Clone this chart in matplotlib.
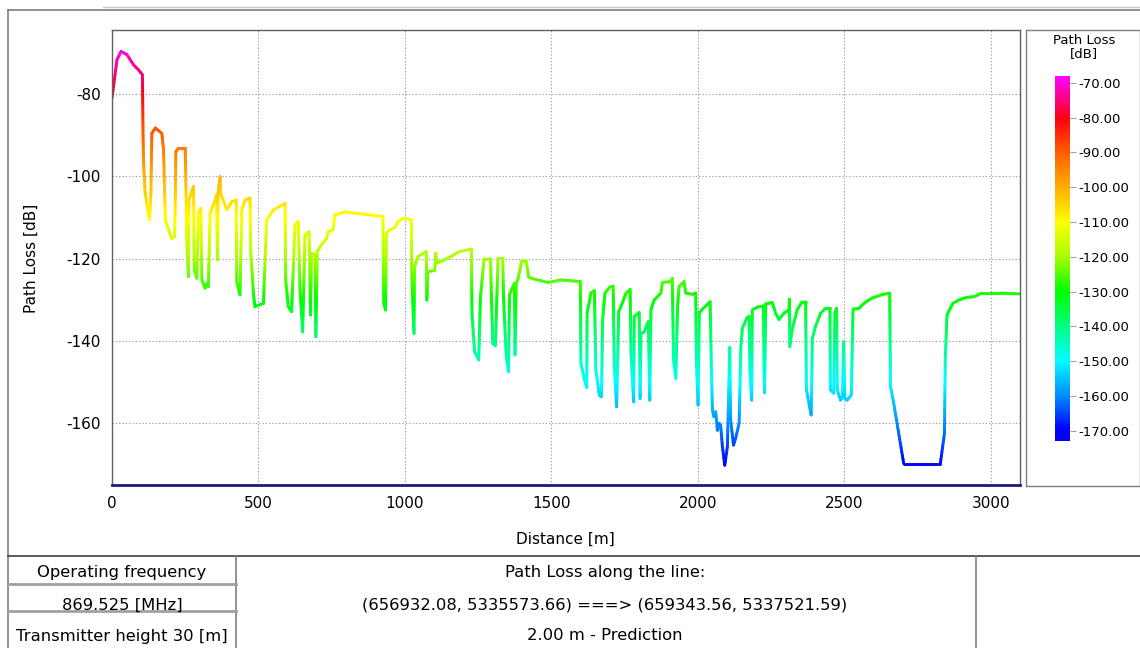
import numpy as np
import matplotlib
matplotlib.use("Agg")
import matplotlib.pyplot as plt
from matplotlib.collections import LineCollection
from matplotlib.colors import LinearSegmentedColormap, Normalize

plt.rcParams["axes.unicode_minus"] = False

# path loss profile: distance [m] and loss [dB]
distance = [0, 17, 31, 51, 74, 91, 104, 106, 108, 113, 128, 133, 136, 148, 170, 176, 182, 193,
            204, 214, 216, 218, 227, 250, 253, 255, 261, 263, 278, 281, 290, 295, 303, 307, 318,
            324, 329, 335, 352, 357, 360, 362, 369, 371, 375, 392, 409, 424, 426, 437, 443, 454,
            471, 474, 483, 488, 500, 517, 528, 551, 591, 593, 602, 613, 625, 636, 642, 651, 659,
            673, 678, 681, 693, 696, 701, 715, 733, 738, 755, 761, 795, 857, 925, 928, 934, 937,
            948, 965, 977, 994, 1022, 1024, 1031, 1033, 1045, 1073, 1075, 1078, 1102, 1105, 1110,
            1136, 1187, 1227, 1229, 1238, 1252, 1258, 1270, 1292, 1300, 1309, 1318, 1334, 1337,
            1346, 1354, 1357, 1369, 1374, 1376, 1380, 1386, 1399, 1414, 1422, 1442, 1488, 1533,
            1567, 1599, 1601, 1613, 1621, 1622, 1630, 1635, 1647, 1652, 1664, 1671, 1675, 1683,
            1698, 1711, 1715, 1723, 1730, 1744, 1755, 1769, 1772, 1781, 1783, 1800, 1803, 1806,
            1817, 1831, 1836, 1840, 1851, 1874, 1879, 1908, 1913, 1917, 1925, 1931, 1936, 1953,
            1959, 1982, 1993, 1995, 2001, 2005, 2016, 2042, 2047, 2050, 2055, 2061, 2067, 2073,
            2078, 2084, 2092, 2101, 2109, 2112, 2122, 2129, 2141, 2147, 2152, 2167, 2175, 2178,
            2184, 2186, 2203, 2224, 2226, 2228, 2232, 2254, 2266, 2277, 2294, 2311, 2313, 2314,
            2322, 2339, 2356, 2368, 2371, 2387, 2391, 2402, 2419, 2436, 2451, 2453, 2464, 2468,
            2474, 2476, 2487, 2494, 2498, 2502, 2510, 2524, 2530, 2550, 2567, 2595, 2629, 2655,
            2658, 2669, 2703, 2828, 2842, 2845, 2851, 2856, 2871, 2890, 2919, 2941, 2970, 3032,
            3100]
path_loss = [-81, -71.7, -69.7, -70.5, -73, -74.2, -75.4, -90, -97, -104, -110.6, -104, -89.6,
             -88.3, -89.6, -93.6, -110.6, -113, -115.1, -114.7, -105.8, -94, -93.2, -93.2, -105,
             -115.5, -124.4, -105.8, -102.5, -122.8, -124.8, -109, -107.8, -125.2, -127.2, -126,
             -126.8, -109, -105.8, -104.5, -120.3, -104, -100.1, -104.5, -105, -108.2, -106.2,
             -105.8, -125.6, -128.8, -108.2, -105.8, -105.3, -118.7, -128.4, -131.7, -131.3,
             -130.9, -110.6, -108.2, -106.6, -125.2, -131.7, -132.9, -111.8, -111, -127.6,
             -137.8, -114.3, -113.5, -133.7, -118.7, -119.1, -139, -118.3, -116.7, -115.1,
             -113.5, -113, -109.4, -108.7, -109.2, -109.8, -130.9, -132.5, -113.9, -113, -112.6,
             -111, -110.2, -110.6, -125.2, -138.2, -122, -119.5, -118.3, -130.1, -123.2, -122.9,
             -118.7, -121.1, -120.3, -118.3, -117.7, -133.3, -142.6, -144.6, -129.3, -120.2,
             -120.1, -140.6, -141.2, -119.9, -119.9, -130, -143.8, -147.5, -128.8, -126.8, -126,
             -143.4, -126, -125, -120.5, -120.5, -124.5, -125, -125.8, -125.2, -125.4, -125.6,
             -145.4, -149.5, -151.3, -133.3, -130.5, -128.4, -127.8, -147.1, -153.2, -153.6,
             -134.9, -128.4, -127, -126.7, -146.3, -156, -132.9, -130.5, -128.4, -127.5, -143,
             -154.8, -134.1, -133.1, -154, -138.2, -137.8, -135.3, -154.4, -132.5, -130.1,
             -128.4, -125.8, -125.6, -124.8, -144.6, -149.1, -131.7, -126.8, -125.6, -128.4,
             -128.7, -128.4, -144.6, -155.6, -133.3, -132.3, -130.5, -148.7, -156.8, -158.4,
             -157.2, -161.7, -160, -160.5, -165.7, -170.2, -165.7, -141.6, -159.2, -165.3,
             -163.7, -160, -141.4, -137, -134.5, -134, -147.1, -154.4, -132.5, -131.8, -131.5,
             -146.3, -152.6, -131, -130.7, -133.3, -134.8, -133.3, -132.5, -129.9, -141.4,
             -137.3, -132.5, -130.5, -130.5, -151.9, -158, -139.4, -136.5, -133.3, -132.1,
             -132.1, -151.9, -152.7, -133.3, -132.1, -151.9, -154.4, -153.5, -140.2, -154,
             -154.4, -153.1, -132.3, -132.1, -130.9, -129.6, -128.8, -128.4, -151.1, -155.2,
             -169.8, -169.8, -162.5, -143.8, -133.7, -132.9, -130.9, -130.1, -129.4, -129.3,
             -128.4, -128.4, -128.6]

x_ticks = [0, 500, 1000, 1500, 2000, 2500, 3000]
y_ticks = [-160, -140, -120, -100, -80]
cbar_ticks = [-70, -80, -90, -100, -110, -120, -130, -140, -150, -160, -170]

left_rows = ["Operating frequency", "869.525 [MHz]", "Transmitter height 30 [m]"]
mid_rows = ["Path Loss along the line:",
            "(656932.08, 5335573.66) ===> (659343.56, 5337521.59)",
            "2.00 m - Prediction"]

# colour scale like the one on the right
cmap_nodes = [(-173, "#0000ff"), (-170, "#0000ff"), (-160, "#0090ff"), (-150, "#00ffff"),
              (-140, "#00ff80"), (-130, "#00ff00"), (-120, "#a8ff00"), (-110, "#ffff00"),
              (-100, "#ffb000"), (-90, "#ff6000"), (-80, "#ff0010"), (-68, "#ff00ff")]
vmin, vmax = -173, -68
cmap = LinearSegmentedColormap.from_list(
    "pl", [((v - vmin) / (vmax - vmin), c) for v, c in cmap_nodes])
norm = Normalize(vmin, vmax)

W, H = 1140, 648
fig = plt.figure(figsize=(W / 100, H / 100), dpi=100)
fig.patch.set_facecolor("white")


def box(l, t, r, b):
    return [l / W, 1 - b / H, (r - l) / W, (b - t) / H]


# overlay in pixel coordinates for frames and table
over = fig.add_axes([0, 0, 1, 1], zorder=0)
over.set_xlim(0, W)
over.set_ylim(H, 0)
over.axis("off")
grey = "#7f7f7f"
over.plot([103, W], [7, 7], color="#c8c8c8", lw=1)
over.plot([8, W], [9.5, 9.5], color=grey, lw=1.2)
over.plot([8, 8], [9.5, H], color=grey, lw=1.2)
over.plot([8, W], [556, 556], color="#404040", lw=1.2)
over.plot([236, 236], [556, H], color=grey, lw=1.2)
over.plot([976, 976], [556, H], color=grey, lw=1.2)
over.plot([8, 236], [583.5, 583.5], color="#a0a0a0", lw=2)
over.plot([8, 236], [610.5, 610.5], color="#a0a0a0", lw=2)
over.plot([1026, 1026, W, W], [486, 30, 30, 486], color=grey, lw=1)
over.plot([1026, W], [486, 486], color=grey, lw=1)

for i, (a, b) in enumerate(zip(left_rows, mid_rows)):
    yy = [573, 605, 636][i]
    over.text(122, yy, a, ha="center", va="center", fontsize=11.8)
    over.text(605, yy, b, ha="center", va="center", fontsize=11.8)

over.text(565, 539, "Distance [m]", ha="center", va="center", fontsize=11)
over.text(31, 258, "Path Loss [dB]", ha="center", va="center", fontsize=11, rotation=90)
over.text(1084, 40, "Path Loss", ha="center", va="center", fontsize=9.5)
over.text(1084, 54, "[dB]", ha="center", va="center", fontsize=9.5)

# main chart
ax = fig.add_axes(box(112, 30, 1020, 485), zorder=1)
x = np.array(distance, dtype=float)
y = np.array(path_loss, dtype=float)
# split each segment in short pieces so the colour follows the value
segs, vals = [], []
for i in range(len(x) - 1):
    n = max(2, int(abs(y[i + 1] - y[i]) / 1.0) + 1)
    t = np.linspace(0, 1, n + 1)
    xs = x[i] + (x[i + 1] - x[i]) * t
    ys = y[i] + (y[i + 1] - y[i]) * t
    for k in range(n):
        segs.append([(xs[k], ys[k]), (xs[k + 1], ys[k + 1])])
        vals.append((ys[k] + ys[k + 1]) / 2)
lc = LineCollection(segs, cmap=cmap, norm=norm, linewidths=2.1, capstyle="round")
lc.set_array(np.array(vals))
ax.add_collection(lc)

ax.set_xlim(0, 3100)
ax.set_ylim(-175, -64.5)
ax.set_xticks(x_ticks)
ax.set_yticks(y_ticks)
ax.tick_params(length=0, labelsize=11, pad=8)
ax.grid(True, linestyle=(0, (1, 2)), color="#909090", linewidth=0.8)
for side in ["top", "left", "right"]:
    ax.spines[side].set_color("#606060")
    ax.spines[side].set_linewidth(1)
ax.spines["bottom"].set_color("#1a1a80")
ax.spines["bottom"].set_linewidth(2)

# colour bar
cax = fig.add_axes(box(1055, 76, 1070, 441), zorder=1)
grad = np.linspace(vmin, vmax, 400).reshape(-1, 1)
cax.imshow(grad, aspect="auto", cmap=cmap, norm=norm, origin="lower",
           extent=[0, 1, vmin, vmax])
cax.set_xlim(0, 1)
cax.set_ylim(vmin, vmax)
cax.set_xticks([])
cax.yaxis.tick_right()
cax.set_yticks(cbar_ticks)
cax.set_yticklabels(["%.2f" % v for v in cbar_ticks])
cax.tick_params(axis="y", length=4, color="#a0a0a0", labelsize=9.5, pad=2)
for s in cax.spines.values():
    s.set_visible(False)

fig.savefig("out.png", dpi=100)
